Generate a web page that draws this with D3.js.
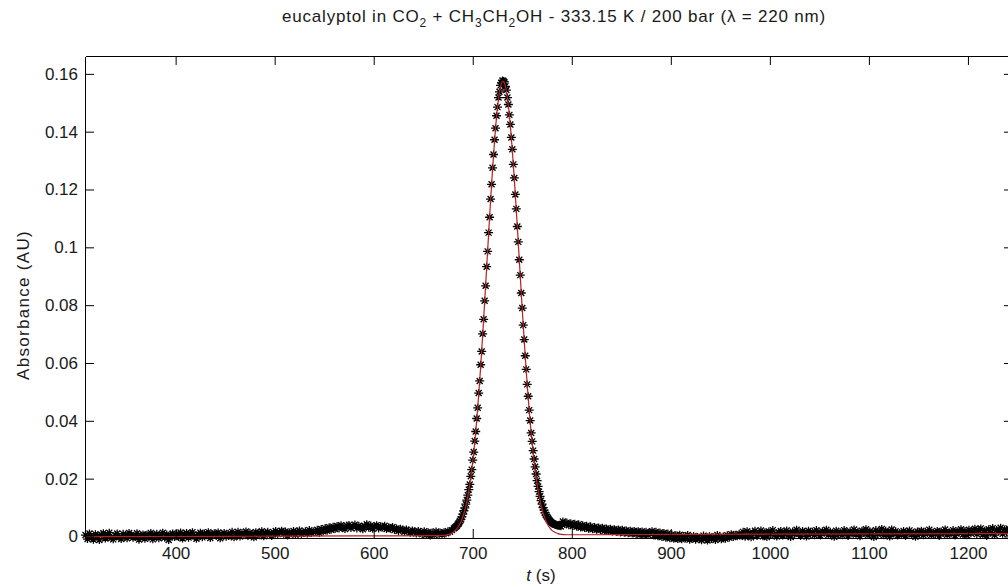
<!DOCTYPE html>
<html><head><meta charset="utf-8">
<script src="https://cdn.jsdelivr.net/npm/d3@7"></script>
<style>
html,body{margin:0;padding:0;background:#fff;}
svg{display:block;}
text{font-family:"Liberation Sans",Arial,Helvetica,sans-serif;fill:#1a1a1a;}
</style></head>
<body>
<svg id="chart" width="1008" height="587"></svg>
<script>
// ---- data (absorbance in mAU) ----
// measured points, segment A: t = 309 s onward every 2 s
const segAStart = 309, segAStep = 2;
const segA = [0.5,-0.9,1.0,-0.2,-1.1,0.8,0.1,-1.2,0.6,1.1,-0.7,0.2,1.3,-0.5,-1.0,0.4,1.0,-0.3,-0.9,0.9,
  0.2,-0.6,1.2,0.5,-0.4,-0.1,1.1,-1.1,0.3,0.7,-0.8,0.6,-0.3,1.2,-1.0,0.4,0.9,-0.6,0.1,1.3,-0.4,0.7,-1.2,0.3,1.0,-0.2,
  0.9,-0.2,1.4,-0.7,0.5,1.2,-0.4,0.9,1.5,0.1,-0.8,0.7,1.3,-0.3,1.0,0.4,1.5,-0.5,0.8,1.1,0.2,1.4,-0.6,0.6,1.2,-0.1,0.9,0.3,1.6,-0.3,
  0.9,1.6,0.0,1.2,0.5,1.7,0.2,1.3,0.8,-0.3,1.5,1.0,0.4,1.8,0.1,1.2,1.6,0.6,0.2,1.4,1.9,0.8,1.5,2.0,0.9,1.7,0.3,1.4,1.1,1.9,0.6,1.6,2.1,0.8,1.3,1.8,1.0,2.2,1.2,1.7,
  1.6,2.3,1.2,2.6,1.8,2.9,2.0,3.2,2.3,3.4,2.6,3.6,2.8,3.9,3.0,2.6,3.7,4.0,2.9,3.5,4.1,2.8,3.7,3.2,2.5,3.6,4.2,3.0,3.8,2.7,
  3.4,3.9,2.8,3.5,3.1,3.7,2.6,3.2,2.7,3.3,2.2,2.8,1.9,2.7,2.3,1.6,2.4,1.9,1.3,2.1,1.7,1.0,1.9,1.4,0.8,
  1.8,0.6,1.5,0.3,1.4,0.5,1.7,0.9,1.4,0.7,1.5,1.1,1.8,1.6,2.2];
// segment B (peak): t = 681 s onward every 1 s
const segBStart = 681, segBStep = 1;
const segB = [2.8,3.1,3.4,3.7,4.2,4.6,5.3,5.9,6.8,7.7,
  8.9,9.9,11.2,12.6,14.3,16.2,18.0,20.8,23.1,26.4,
  29.2,33.0,36.3,40.8,44.5,49.6,53.8,59.4,64.0,70.1,
  75.1,81.5,86.7,93.3,98.6,105.1,110.4,116.7,121.8,127.5,
  132.1,137.2,141.2,145.5,148.5,151.8,153.8,156.0,156.9,157.7,
  157.5,157.2,155.7,154.4,151.8,149.4,145.8,142.5,138.0,133.9,
  128.7,124.0,118.3,113.3,107.2,101.9,95.7,90.4,84.2,79.0,
  73.1,68.1,62.5,57.8,52.6,48.5,43.7,40.1,35.8,32.9,
  29.7,26.8,24.1,21.6,19.3,17.3,15.5,13.9,12.4,11.2,
  10.0,9.1,8.2,7.5,6.8,6.3,5.8,5.4,5.0,4.7,
  4.5,4.3,4.1,4.0,3.9,3.8,3.7,3.6,3.5];
// segment C: t = 791 s onward every 2 s
const segCStart = 791, segCStep = 2;
const segC = [5.2,4.3,4.8,3.9,4.6,3.6,4.4,3.4,4.2,3.1,3.9,2.9,3.7,2.7,3.5,2.5,3.3,2.3,3.1,2.2,
  3.0,2.0,2.8,1.9,2.7,1.7,2.5,1.6,2.4,1.4,2.3,1.3,2.1,1.1,2.0,1.0,1.9,0.8,1.8,0.7,1.7,0.6,1.6,0.5,1.4,
  1.8,0.3,1.6,0.1,1.4,-0.2,1.2,-0.4,1.0,-0.6,0.7,-0.8,0.4,-0.9,0.6,-1.0,0.2,-0.7,0.5,-1.1,
  -0.7,0.2,-1.1,-0.2,-0.9,-1.3,0.3,-0.6,-1.4,0.1,-0.9,-0.3,-1.2,0.5,-0.5,-1.0,0.0,-0.8,0.4,-0.4,0.8,-0.2,0.6,0.1,0.9,
  0.3,1.6,-0.1,1.8,0.6,-0.3,1.3,2.0,0.2,1.1,
  2.1,0.1,1.5,-0.2,1.7,0.9,2.2,0.5,0.0,1.4,
  1.9,0.3,1.2,2.1,0.6,-0.2,1.7,1.0,2.3,0.8,
  0.2,1.9,1.4,0.0,2.0,0.9,1.6,0.4,2.2,1.0,
  0.3,1.8,1.3,2.3,0.5,1.6,1.1,-0.1,2.0,0.8,
  1.5,0.4,2.2,1.3,0.2,1.8,1.0,2.4,0.7,1.6,
  0.1,2.0,1.2,2.5,0.5,1.8,1.1,-0.2,2.2,0.8,
  1.5,2.6,0.4,2.0,1.3,0.0,2.4,1.0,1.8,0.3,
  1.2,0.6,1.9,0.2,1.5,2.1,0.7,1.3,-0.1,1.7,
  0.9,2.0,0.4,1.6,1.1,2.3,0.5,1.4,0.8,1.9,
  0.2,1.7,1.2,2.4,0.6,1.5,1.0,2.2,0.3,1.8,
  1.3,2.5,0.7,1.9,0.4,2.3,1.1,1.6,2.7,0.8,
  2.2,2.8,0.6,2.0,0.2,2.5,1.4,2.9,0.5,2.2,
  1.7,3.0,0.9,2.4,1.5,2.8,1.2,2.6];
// fitted curve (red line)
const fitT = [309,400,500,600,660,670,675,680,682,684,686,688,690,692,694,696,698,700,702,704,706,708,710,712,714,716,718,720,722,724,726,728,730,731,732,734,736,738,740,742,744,746,748,750,752,754,756,758,760,762,764,766,768,770,772,774,776,778,780,782,784,786,788,795,810,850,900,1000,1100,1246];
const fitV = [-0.1,0.0,0.1,0.2,0.3,0.4,0.7,1.4,2.0,2.7,3.7,5.0,6.8,9.1,12.0,15.8,20.4,25.9,32.5,40.2,49.0,58.8,69.5,80.9,92.7,104.5,116.1,127.0,136.7,145.0,151.3,155.5,157.3,157.3,156.8,153.9,148.9,142.0,133.4,123.5,112.8,101.4,89.9,78.5,67.6,57.3,48.0,39.6,32.1,25.8,20.4,15.9,12.3,9.4,7.1,5.3,3.9,2.9,2.1,1.6,1.3,1.0,0.8,0.6,0.6,0.65,0.7,0.8,0.9,1.0];
// axes
const xDomain = [309, 1246];
const yDomain = [-0.0007, 0.166];
const xTicks = [400,500,600,700,800,900,1000,1100,1200];
const xTickLabels = ["400","500","600","700","800","900","1000","1100","1200"];
const yTicks = [0,0.02,0.04,0.06,0.08,0.1,0.12,0.14,0.16];
const yTickLabels = ["0","0.02","0.04","0.06","0.08","0.1","0.12","0.14","0.16"];

// ---- build points ----
const pts = [];
segA.forEach((v,i)=>pts.push([segAStart+i*segAStep, v/1000]));
segB.forEach((v,i)=>pts.push([segBStart+i*segBStep, v/1000]));
segC.forEach((v,i)=>pts.push([segCStart+i*segCStep, v/1000]));
const fit = fitT.map((t,i)=>[t, fitV[i]/1000]);

const svg = d3.select("#chart");
const L = 85, R = 1013, T = 56, B = 538;
const x = d3.scaleLinear().domain(xDomain).range([L+0.5, R+0.5]);
const y = d3.scaleLinear().domain(yDomain).range([B+0.5, T+0.5]);

// markers
const star = "M-4.5,0H4.5M0,-4V4M-3,-3L3,3M-3,3L3,-3";
svg.append("g").selectAll("path").data(pts).join("path")
  .attr("transform", d=>`translate(${x(d[0])},${y(d[1])})`)
  .attr("d", star).attr("stroke","#000").attr("stroke-width",1.3).attr("fill","none");

// fit line
svg.append("path").datum(fit)
  .attr("d", d3.line().x(d=>x(d[0])).y(d=>y(d[1])).curve(d3.curveMonotoneX))
  .attr("fill","none").attr("stroke","#b22222").attr("stroke-width",1.2);

// axes
const fs = 17;
const xb = d3.axisBottom(x).tickValues(xTicks).tickFormat((d,i)=>xTickLabels[i]).tickSizeInner(-9).tickSizeOuter(0).tickPadding(9);
svg.append("g").attr("transform",`translate(0,${B})`).call(xb);
const xt = d3.axisTop(x).tickValues(xTicks).tickFormat("").tickSizeInner(-9).tickSizeOuter(0);
svg.append("g").attr("transform",`translate(0,${T})`).call(xt);
const yl = d3.axisLeft(y).tickValues(yTicks).tickFormat((d,i)=>yTickLabels[i]).tickSizeInner(-9).tickSizeOuter(0).tickPadding(7);
svg.append("g").attr("transform",`translate(${L},0)`).call(yl);
const yr = d3.axisRight(y).tickValues(yTicks).tickFormat("").tickSizeInner(-9).tickSizeOuter(0);
svg.append("g").attr("transform",`translate(${R},0)`).call(yr);
svg.selectAll(".tick text").attr("font-size",fs).attr("font-family",null).style("fill","#1a1a1a");
svg.selectAll(".domain, .tick line").attr("stroke","#000");

// title
const title = svg.append("text").attr("x",554).attr("y",22).attr("text-anchor","middle")
  .attr("font-size",fs).attr("letter-spacing",0.8);
title.append("tspan").text("eucalyptol in CO");
title.append("tspan").attr("dy",5).attr("font-size",12).text("2");
title.append("tspan").attr("dy",-5).text(" + CH");
title.append("tspan").attr("dy",5).attr("font-size",12).text("3");
title.append("tspan").attr("dy",-5).text("CH");
title.append("tspan").attr("dy",5).attr("font-size",12).text("2");
title.append("tspan").attr("dy",-5).text("OH - 333.15 K / 200 bar (λ = 220 nm)");

// axis labels
const xl = svg.append("text").attr("x",541).attr("y",581).attr("text-anchor","middle").attr("font-size",fs);
xl.append("tspan").attr("font-style","italic").text("t");
xl.append("tspan").text(" (s)");
svg.append("text").attr("transform",`translate(29,305) rotate(-90)`).attr("text-anchor","middle")
  .attr("font-size",fs).attr("letter-spacing",1.3).text("Absorbance (AU)");
</script>
</body></html>
